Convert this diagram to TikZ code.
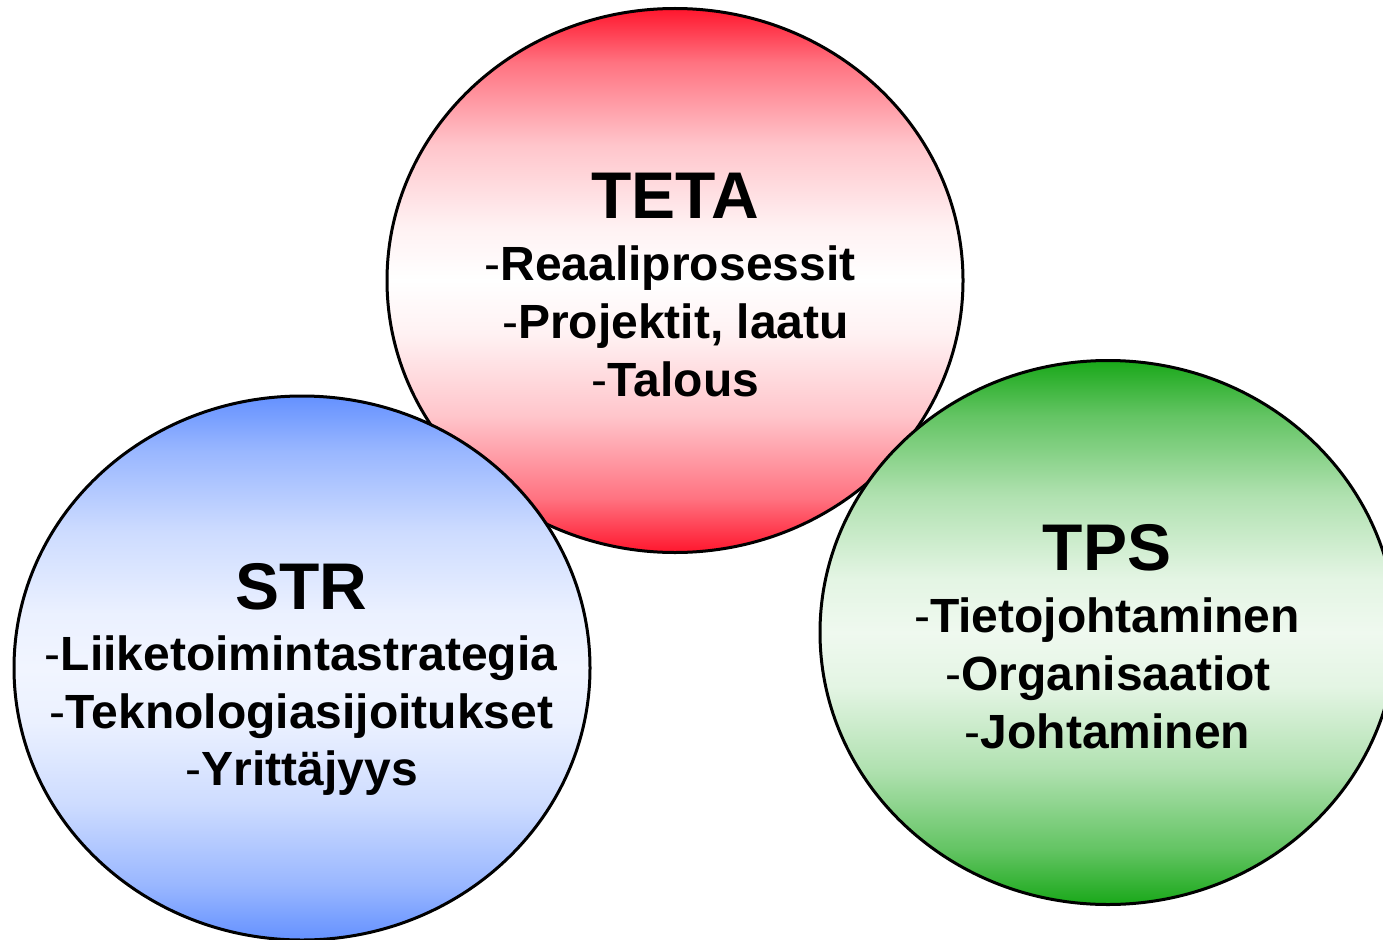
\documentclass[tikz,border=0pt]{standalone}
\usepackage{fontspec}
\setmainfont{Liberation Sans}
\usetikzlibrary{shapes.geometric}
\definecolor{tetared}{RGB}{255,22,45}
\definecolor{strblue}{RGB}{100,145,255}
\definecolor{tpsgreen}{RGB}{25,168,25}
\pgfdeclareverticalshading{tetash}{100bp}{color(0bp)=(tetared); color(25bp)=(tetared); color(30bp)=(tetared!60!white); color(37.5bp)=(tetared!25!white); color(45bp)=(tetared!6!white); color(50bp)=(white); color(55bp)=(tetared!6!white); color(62.5bp)=(tetared!25!white); color(70bp)=(tetared!60!white); color(75bp)=(tetared); color(100bp)=(tetared)}
\pgfdeclareverticalshading{strsh}{100bp}{color(0bp)=(strblue); color(25bp)=(strblue); color(30bp)=(strblue!66!white); color(37.5bp)=(strblue!32!white); color(45bp)=(strblue!13!white); color(50bp)=(strblue!9!white); color(55bp)=(strblue!13!white); color(62.5bp)=(strblue!32!white); color(70bp)=(strblue!66!white); color(75bp)=(strblue); color(100bp)=(strblue)}
\pgfdeclareverticalshading{tpssh}{100bp}{color(0bp)=(tpsgreen); color(25bp)=(tpsgreen); color(30bp)=(tpsgreen!68!white); color(37.5bp)=(tpsgreen!34!white); color(45bp)=(tpsgreen!12!white); color(50bp)=(tpsgreen!7!white); color(55bp)=(tpsgreen!12!white); color(62.5bp)=(tpsgreen!34!white); color(70bp)=(tpsgreen!68!white); color(75bp)=(tpsgreen); color(100bp)=(tpsgreen)}
\tikzset{
  circ/.style={ellipse, draw=black, line width=3pt, minimum width=576pt, minimum height=544pt, inner sep=0pt, outer sep=0pt},
  ttl/.style={anchor=base, inner sep=0pt, font=\fontsize{66}{66}\selectfont\bfseries},
  itm/.style={anchor=base, inner sep=0pt, font=\fontsize{48}{48}\selectfont\bfseries},
}
\newcommand{\itmtxt}[1]{{\mdseries -}#1}
\begin{document}
\begin{tikzpicture}[x=1pt,y=-1pt]
\useasboundingbox (0,0) rectangle (1383,939);
% circles
\node[circ, shading=tetash] (teta) at (675,280.5) {};
\node[circ, shading=strsh] (str) at (302,668) {};
\node[circ, shading=tpssh] (tps) at (1108,632.5) {};
% TETA texts
\node[ttl] (teta-t) at (675,218) {TETA};
\node[itm] (teta-1) at (670,280) {\itmtxt{Reaaliprosessit}};
\node[itm] (teta-2) at (675.5,338) {\itmtxt{Projektit, laatu}};
\node[itm] (teta-3) at (675.5,396) {\itmtxt{Talous}};
% STR texts
\node[ttl] (str-t) at (301,609) {STR};
\node[itm] (str-1) at (301,670) {\itmtxt{Liiketoimintastrategia}};
\node[itm] (str-2) at (301.5,728) {\itmtxt{Teknologiasijoitukset}};
\node[itm] (str-3) at (302,785) {\itmtxt{Yrittäjyys}};
% TPS texts
\node[ttl] (tps-t) at (1107,570) {TPS};
\node[itm] (tps-1) at (1107,632) {\itmtxt{Tietojohtaminen}};
\node[itm] (tps-2) at (1108,690) {\itmtxt{Organisaatiot}};
\node[itm] (tps-3) at (1107.5,748) {\itmtxt{Johtaminen}};
\end{tikzpicture}
\end{document}
